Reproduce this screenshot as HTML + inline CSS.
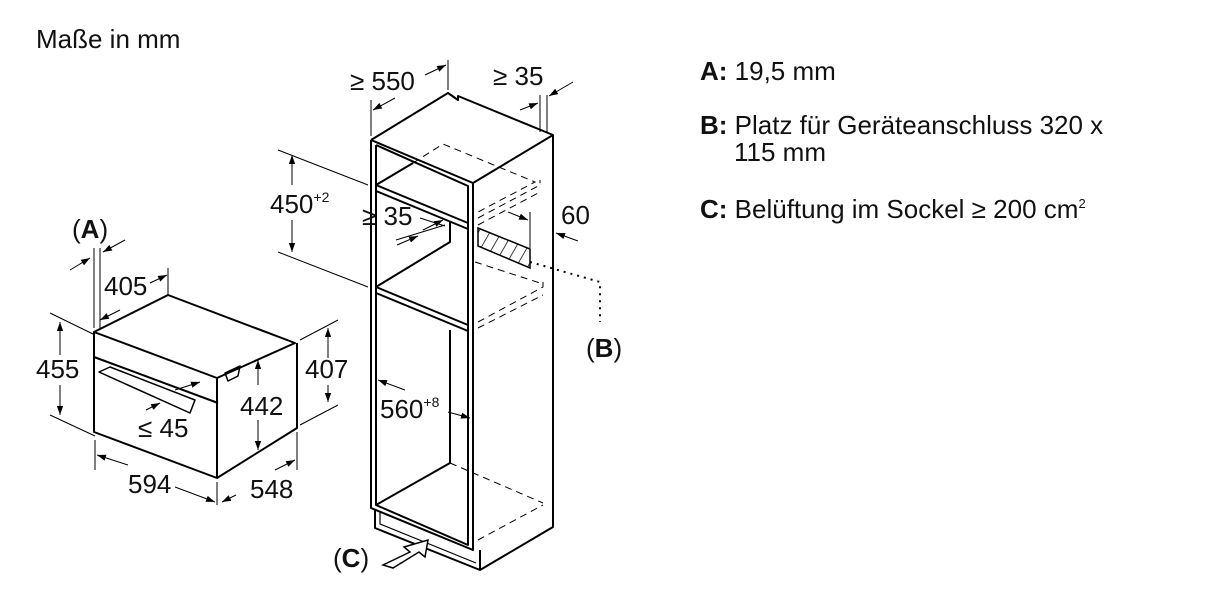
<!DOCTYPE html>
<html><head><meta charset="utf-8"><style>
body{margin:0;background:#fff}
svg{display:block}
text{font-family:"Liberation Sans",sans-serif;fill:#111}
</style></head><body>
<svg width="1213" height="608" viewBox="0 0 1213 608">
<defs>
<marker id="ar" viewBox="0 0 10 10" refX="10" refY="5" markerWidth="9" markerHeight="9" orient="auto-start-reverse"><path d="M0,1.5 L10,5 L0,8.5z" fill="#000"/></marker>
<pattern id="hat" width="10" height="10" patternUnits="userSpaceOnUse" patternTransform="rotate(30)"><line x1="0" y1="0" x2="0" y2="10" stroke="#000" stroke-width="1.5"/></pattern>
</defs>
<text x="36" y="48" font-size="26">Maße in mm</text>
<g font-size="26">
<text x="700" y="80"><tspan font-weight="bold">A:</tspan> 19,5 mm</text>
<text x="700" y="134"><tspan font-weight="bold">B:</tspan> Platz für Geräteanschluss 320 x</text>
<text x="734" y="161">115 mm</text>
<text x="700" y="218"><tspan font-weight="bold">C:</tspan> Belüftung im Sockel ≥ 200 cm<tspan font-size="13" dy="-10">2</tspan></text>
</g>
<g fill="none" stroke="#000" stroke-width="2" stroke-linejoin="round">
<!-- oven -->
<path d="M94,332 L94,432 L217,478 L217,378 Z"/>
<path d="M94,332 L168,295 L295,343 L217,378"/>
<path d="M217,478 L297,428 L297,343"/>
<path d="M94,357 L218,403"/>
<path d="M99,372 L110,367 L195,400 L190,413 Z" stroke-width="1.5"/>
<path d="M225,373 L240,366 L238,376 L228,381 Z" stroke-width="1.5"/>
<!-- cabinet -->
<path d="M371,140 L448,93 L458,100 L458,96 L553,135 L553,505"/>
<path d="M371,140 L473,183 L553,135"/>
<path d="M371,140 L371,508 L473,550 L473,183"/>
<path d="M376,145 L376,505 L468,545 L468,186 L376,145"/>
<path d="M376,185 L468,223 M376,191 L468,229 M376,185 L413,163"/>
<path d="M376,287 L468,325 M376,293 L468,331 M376,287 L450,242 L450,222"/>
<path d="M376,505 L450,463 L450,330"/>
<path d="M375,510 L375,528 L480,570 L480,550 M480,570 L553,527 L553,505"/>
<path d="M380,512 L380,524 L476,563" stroke-width="1.2"/>
</g>
<g fill="none" stroke="#000" stroke-width="1" stroke-dasharray="7,5">
<path d="M413,163 L443,144 L535,182 L478,212"/>
<path d="M478,218 L540,185 L540,180 M478,225 L540,192"/>
<path d="M475,262 L540,283"/>
<path d="M478,322 L543,287 L543,282 M478,328 L543,295"/>
<path d="M450,463 L543,503 M478,540 L543,505"/>
</g>
<path d="M478,228 L530,249 L530,268 L478,246 Z" fill="url(#hat)" stroke="#000" stroke-width="1.5"/>
<path d="M530,262 L600,282 L600,322" fill="none" stroke="#000" stroke-width="2" stroke-dasharray="2,5"/>
<path d="M383,565 L410,552 L404,547 L428,540 L425,557 L419,552 L393,568 Z" fill="#fff" stroke="#000" stroke-width="1.5"/>
<g stroke="#000" stroke-width="1" fill="none">
<path d="M94,328 L94,248 M100,328 L100,248 M168,295 L168,268"/>
<path d="M70,270 L90,258" marker-end="url(#ar)"/>
<path d="M125,240 L103,252" marker-end="url(#ar)"/>
<path d="M120,310 L100,320" marker-end="url(#ar)"/>
<path d="M150,283 L167,275" marker-end="url(#ar)"/>
<path d="M50,313 L95,335 M50,415 L95,436"/>
<path d="M60,355 L60,322" marker-end="url(#ar)"/><path d="M60,385 L60,415" marker-end="url(#ar)"/>
<path d="M300,340 L338,320 M300,425 L338,405"/>
<path d="M328,358 L328,328" marker-end="url(#ar)"/><path d="M328,385 L328,402" marker-end="url(#ar)"/>
<path d="M258,385 L258,360" marker-end="url(#ar)"/><path d="M258,420 L258,450" marker-end="url(#ar)"/>
<path d="M95,440 L95,470 M217,482 L217,505"/>
<path d="M128,465 L97,455" marker-end="url(#ar)"/><path d="M175,487 L215,502" marker-end="url(#ar)"/>
<path d="M297,432 L297,470"/>
<path d="M236,495 L222,502" marker-end="url(#ar)"/><path d="M275,470 L295,460" marker-end="url(#ar)"/>
<path d="M175,390 L200,382" marker-end="url(#ar)"/><path d="M146,410 L160,403" marker-end="url(#ar)"/>
<path d="M371,136 L371,100 M448,90 L448,60"/>
<path d="M395,98 L373,110" marker-end="url(#ar)"/><path d="M425,75 L446,65" marker-end="url(#ar)"/>
<path d="M540,132 L540,95 M547,132 L547,95"/>
<path d="M520,110 L538,103" marker-end="url(#ar)"/><path d="M573,82 L549,96" marker-end="url(#ar)"/>
<path d="M278,150 L368,185 M278,252 L368,287"/>
<path d="M292,185 L292,155" marker-end="url(#ar)"/><path d="M292,220 L292,252" marker-end="url(#ar)"/>
<path d="M420,218 L445,226 M396,240 L445,225"/>
<path d="M423,230 L443,220" marker-end="url(#ar)"/>
<path d="M397,245 L418,236" marker-end="url(#ar)"/>
<path d="M530,212 L530,248"/>
<path d="M508,212 L528,220" marker-end="url(#ar)"/>
<path d="M578,241 L556,233" marker-end="url(#ar)"/>
<path d="M405,390 L378,380" marker-end="url(#ar)"/><path d="M448,412 L470,418" marker-end="url(#ar)"/>
</g>
<g font-size="26">
<text x="72" y="238">(<tspan font-weight="bold">A</tspan>)</text>
<text x="104" y="295">405</text>
<text x="36" y="378">455</text>
<text x="240" y="415">442</text>
<text x="305" y="378">407</text>
<text x="138" y="437">≤ 45</text>
<text x="128" y="493">594</text>
<text x="250" y="498">548</text>
<text x="350" y="90">≥ 550</text>
<text x="493" y="85">≥ 35</text>
<text x="270" y="213">450<tspan font-size="14" dy="-11">+2</tspan></text>
<text x="362" y="225">≥ 35</text>
<text x="561" y="224">60</text>
<text x="380" y="418">560<tspan font-size="14" dy="-11">+8</tspan></text>
<text x="586" y="357">(<tspan font-weight="bold">B</tspan>)</text>
<text x="333" y="567">(<tspan font-weight="bold">C</tspan>)</text>
</g>
</svg>
</body></html>
